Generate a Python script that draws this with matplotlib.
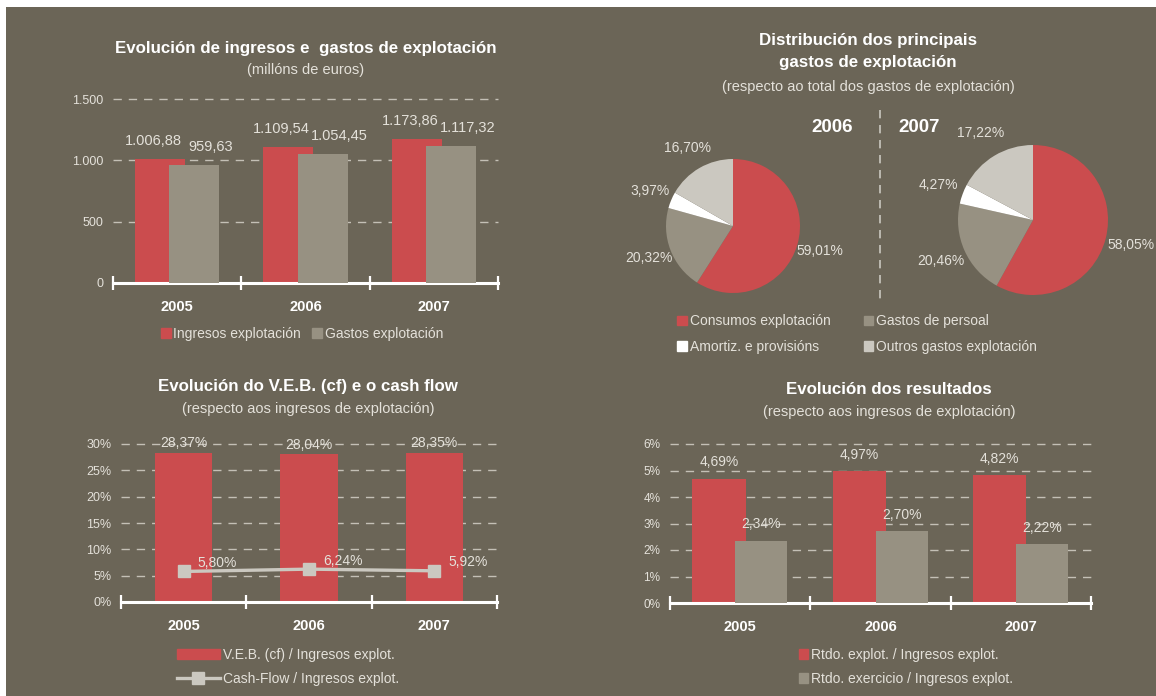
import matplotlib
matplotlib.use('Agg')
import matplotlib.pyplot as plt
from matplotlib.patches import Rectangle, Patch
from matplotlib.lines import Line2D
import numpy as np

plt.rcParams['font.family'] = ['Liberation Sans', 'DejaVu Sans']

# datos
years = ['2005', '2006', '2007']
ingresos = [1006.88, 1109.54, 1173.86]
gastos = [959.63, 1054.45, 1117.32]
ticks_eur = [0, 500, 1000, 1500]

pie_labels = ['Consumos explotación', 'Gastos de persoal', 'Amortiz. e provisións', 'Outros gastos explotación']
pie_2006 = [59.01, 20.32, 3.97, 16.70]
pie_2007 = [58.05, 20.46, 4.27, 17.22]

veb = [28.37, 28.04, 28.35]
cash_flow = [5.80, 6.24, 5.92]
ticks_veb = [0, 5, 10, 15, 20, 25, 30]

rtdo_explot = [4.69, 4.97, 4.82]
rtdo_exerc = [2.34, 2.70, 2.22]
ticks_rtdo = [0, 1, 2, 3, 4, 5, 6]

BG = '#6b6557'
RED = '#cb4c4e'
GRAY = '#979182'
LIGHT = '#cbc8c0'
TXT = '#e4e1da'
GRID = '#c4c0b6'

W, H = 1156, 696
fig = plt.figure(figsize=(W / 100, H / 100), dpi=100)
fig.patch.set_facecolor('white')
fig.add_artist(Rectangle((6 / W, 0), 1, 1 - 7 / H, transform=fig.transFigure,
                         facecolor=BG, edgecolor='none', zorder=-10))


def fmt(v, dec=2):
    s = f"{v:,.{dec}f}"
    return s.replace(',', 'X').replace('.', ',').replace('X', '.')


def px_axes(x0, y0, x1, y1):
    return fig.add_axes([x0 / W, 1 - y1 / H, (x1 - x0) / W, (y1 - y0) / H])


def ftext(x, y, s, **kw):
    kw.setdefault('ha', 'center')
    kw.setdefault('va', 'center')
    kw.setdefault('color', 'white')
    fig.text(x / W, 1 - y / H, s, **kw)


def style_bar_axes(ax, ticks, ticklabels, ymax, tsize=9):
    ax.set_facecolor('none')
    ax.set_xlim(-0.5, 2.5)
    ax.set_ylim(0, ymax)
    for s in ['top', 'right', 'left']:
        ax.spines[s].set_visible(False)
    ax.spines['bottom'].set_color('white')
    ax.spines['bottom'].set_linewidth(2.2)
    ax.set_yticks(ticks)
    ax.set_yticklabels(ticklabels, color=TXT, fontsize=tsize)
    ax.tick_params(axis='y', length=0, pad=7)
    ax.yaxis.grid(True, color=GRID, lw=1, ls=(0, (6, 5)))
    ax.set_axisbelow(True)
    for gl in ax.get_ygridlines():
        gl.set_clip_on(False)
    ax.set_xticks(range(3))
    ax.set_xticklabels(years, color='white', fontsize=10.5, fontweight='bold')
    ax.tick_params(axis='x', which='major', length=0, pad=12)
    ax.set_xticks([-0.5, 0.5, 1.5, 2.5], minor=True)
    ax.tick_params(axis='x', which='minor', direction='inout', length=10, width=1.6, color='white')


x = np.arange(3)

# --- Gráfico 1: ingresos e gastos
ax1 = px_axes(113, 99, 498, 283)
style_bar_axes(ax1, ticks_eur, [fmt(t, 0) for t in ticks_eur], 1500)
ax1.bar(x - 0.133, ingresos, 0.39, color=RED, zorder=2)
ax1.bar(x + 0.133, gastos, 0.39, color=GRAY, zorder=3)
for i in range(3):
    ax1.annotate(fmt(ingresos[i]), (x[i] - 0.133, ingresos[i]), xytext=(-5, 13), textcoords='offset points',
                 ha='center', va='center', color=TXT, fontsize=10.5)
    ax1.annotate(fmt(gastos[i]), (x[i] + 0.133, gastos[i]), xytext=(12, 13), textcoords='offset points',
                 ha='center', va='center', color=TXT, fontsize=10.5)
ftext(306, 48, 'Evolución de ingresos e  gastos de explotación', fontsize=12.2, fontweight='bold')
ftext(306, 70, '(millóns de euros)', fontsize=10.5, color=TXT)
ax1.legend([Patch(color=RED), Patch(color=GRAY)], ['Ingresos explotación', 'Gastos explotación'],
           loc='center', bbox_to_anchor=(302 / W, 1 - 334 / H), bbox_transform=fig.transFigure,
           ncol=2, frameon=False, fontsize=10, labelcolor=TXT, handlelength=0.7, handleheight=0.7,
           handletextpad=0.2, columnspacing=0.8)

# --- Gráfico 2: tartas
ftext(868, 40, 'Distribución dos principais', fontsize=12.2, fontweight='bold')
ftext(868, 63, 'gastos de explotación', fontsize=12.2, fontweight='bold')
ftext(868, 87, '(respecto ao total dos gastos de explotación)', fontsize=10.5, color=TXT)
ftext(832, 127, '2006', fontsize=13.5, fontweight='bold')
ftext(919, 127, '2007', fontsize=13.5, fontweight='bold')
fig.add_artist(Line2D([880 / W, 880 / W], [1 - 110 / H, 1 - 304 / H], transform=fig.transFigure,
                      color=LIGHT, lw=1.2, ls=(0, (5, 4))))

pie_colors = [RED, GRAY, 'white', LIGHT]
for vals, (cx, cy, r) in [(pie_2006, (733, 226, 67)), (pie_2007, (1033, 220, 75))]:
    axp = px_axes(cx - r, cy - r, cx + r, cy + r)
    labs = iter([fmt(v) + '%' for v in vals])
    axp.pie(vals, colors=pie_colors, startangle=90, counterclock=False,
            autopct=lambda p: next(labs), pctdistance=1.35,
            textprops=dict(color=TXT, fontsize=10))
    axp.set_xlim(-1, 1)
    axp.set_ylim(-1, 1)
    axp.axis('off')

h = [Patch(color=c) for c in pie_colors]
order = [0, 2, 1, 3]
fig.legend([h[i] for i in order], [pie_labels[i] for i in order], loc='center',
           bbox_to_anchor=(857 / W, 1 - 334 / H), ncol=2, frameon=False, fontsize=10, labelcolor=TXT,
           handlelength=0.7, handleheight=0.7, handletextpad=0.2, columnspacing=2.4, labelspacing=0.8)

# --- Gráfico 3: V.E.B. e cash flow
ax3 = px_axes(121, 444, 497, 602)
style_bar_axes(ax3, ticks_veb, [f'{t}%' for t in ticks_veb], 30)
ax3.bar(x, veb, 0.46, color=RED, zorder=2)
ax3.plot(x, cash_flow, color=LIGHT, lw=2.4, marker='s', markersize=8, zorder=4)
for i in range(3):
    ax3.annotate(fmt(veb[i]) + '%', (x[i], veb[i]), xytext=(0, 7), textcoords='offset points',
                 ha='center', va='center', color=TXT, fontsize=10)
    ax3.annotate(fmt(cash_flow[i]) + '%', (x[i], cash_flow[i]), xytext=(10, 6), textcoords='offset points',
                 ha='left', va='center', color=TXT, fontsize=10)
ftext(308, 386, 'Evolución do V.E.B. (cf) e o cash flow', fontsize=12.2, fontweight='bold')
ftext(308, 409, '(respecto aos ingresos de explotación)', fontsize=10.5, color=TXT)
ax3.legend([Patch(color=RED), Line2D([], [], color=LIGHT, lw=2.4, marker='s', markersize=8)],
           ['V.E.B. (cf) / Ingresos explot.', 'Cash-Flow / Ingresos explot.'],
           loc='center', bbox_to_anchor=(288 / W, 1 - 667 / H), bbox_transform=fig.transFigure,
           frameon=False, fontsize=10, labelcolor=TXT, handlelength=3.1, handleheight=0.7,
           handletextpad=0.25, labelspacing=0.75)

# --- Gráfico 4: resultados
ax4 = px_axes(670, 444, 1091, 603)
style_bar_axes(ax4, ticks_rtdo, [f'{t}%' for t in ticks_rtdo], 6, tsize=8.5)
ax4.bar(x - 0.15, rtdo_explot, 0.38, color=RED, zorder=2)
ax4.bar(x + 0.15, rtdo_exerc, 0.37, color=GRAY, zorder=3)
for i in range(3):
    ax4.annotate(fmt(rtdo_explot[i]) + '%', (x[i] - 0.15, rtdo_explot[i]), xytext=(0, 12),
                 textcoords='offset points', ha='center', va='center', color=TXT, fontsize=10)
    ax4.annotate(fmt(rtdo_exerc[i]) + '%', (x[i] + 0.15, rtdo_exerc[i]), xytext=(0, 12),
                 textcoords='offset points', ha='center', va='center', color=TXT, fontsize=10)
ftext(889, 389, 'Evolución dos resultados', fontsize=12.2, fontweight='bold')
ftext(889, 412, '(respecto aos ingresos de explotación)', fontsize=10.5, color=TXT)
ax4.legend([Patch(color=RED), Patch(color=GRAY)],
           ['Rtdo. explot. / Ingresos explot.', 'Rtdo. exercicio / Ingresos explot.'],
           loc='center', bbox_to_anchor=(906 / W, 1 - 667 / H), bbox_transform=fig.transFigure,
           frameon=False, fontsize=10, labelcolor=TXT, handlelength=0.7, handleheight=0.7,
           handletextpad=0.2, labelspacing=0.75)

fig.savefig('out.png', dpi=100, facecolor=fig.get_facecolor())
